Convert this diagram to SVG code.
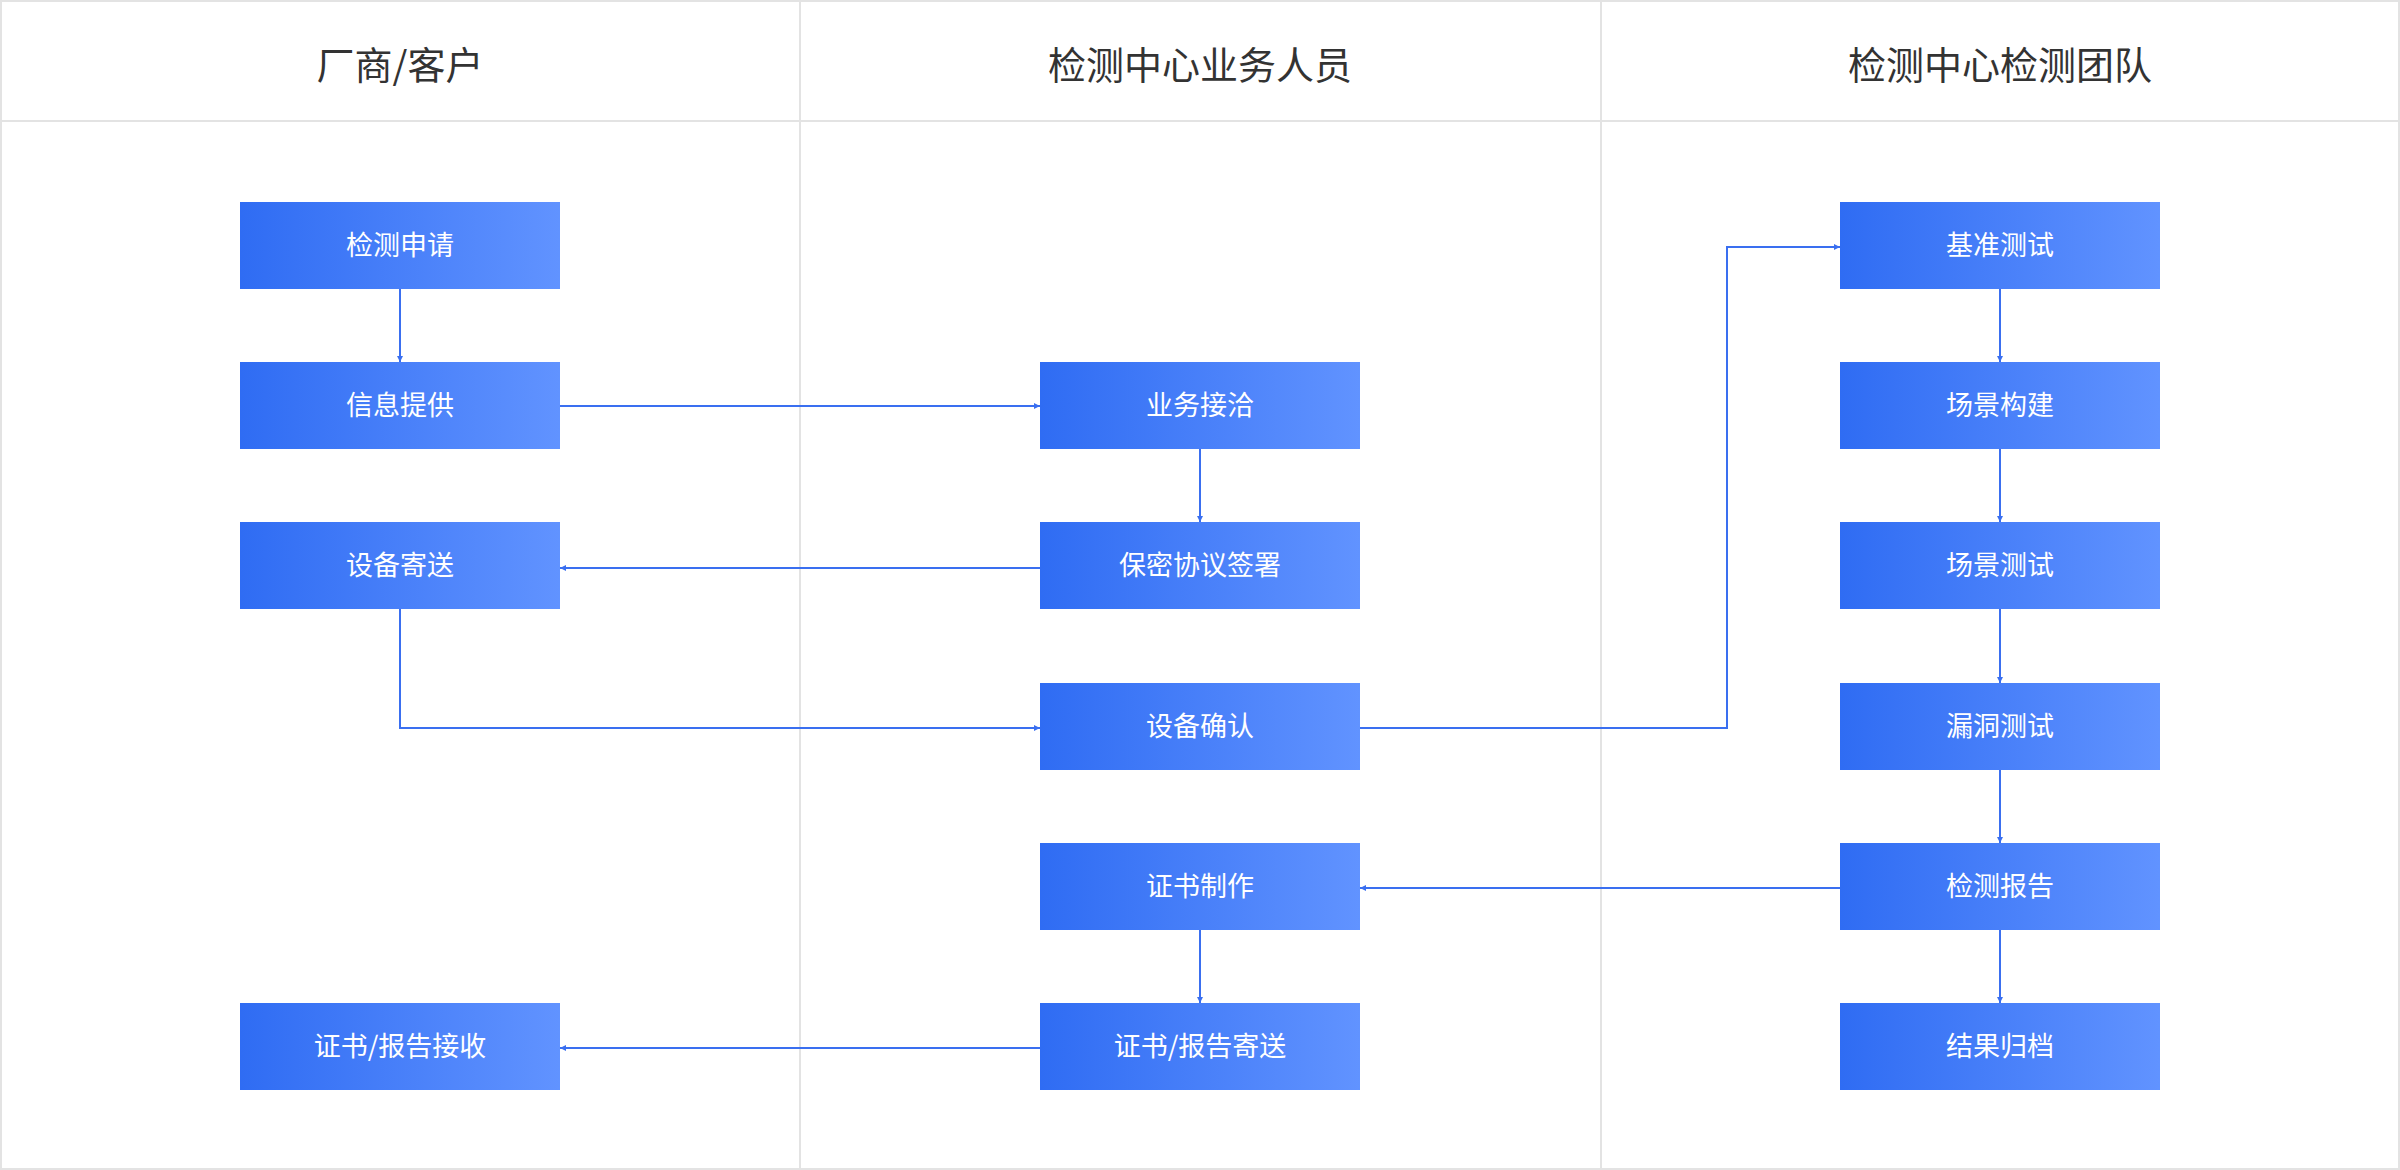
<svg xmlns="http://www.w3.org/2000/svg" width="2400" height="1170" viewBox="0 0 2400 1170">
<style>
.h{font-family:"Noto Sans CJK SC","Noto Sans",sans-serif;font-size:38px;fill:#333;text-anchor:middle}
.t{font-family:"Noto Sans CJK SC","Noto Sans",sans-serif;font-size:27px;fill:#fff;text-anchor:middle}
.c{fill:none;stroke:#3a6ff0;stroke-width:2;marker-end:url(#a)}
.ln{stroke:#e3e3e3;stroke-width:2}
</style>
<defs>
<linearGradient id="g" x1="0" x2="1" y1="0" y2="0"><stop offset="0" stop-color="#2f6cf3"/><stop offset="1" stop-color="#6193ff"/></linearGradient>
<marker id="a" viewBox="0 0 10 10" refX="10" refY="5" markerWidth="6" markerHeight="6" markerUnits="userSpaceOnUse" orient="auto"><path d="M0,0L10,5L0,10z" fill="#3a6ff0"/></marker>
<symbol id="b"><rect width="320" height="87" fill="url(#g)"/></symbol>
</defs>
<rect x="0" y="0" width="2400" height="1170" fill="#fff"/>
<g id="frame">
<rect x="1" y="1" width="2398" height="1168" fill="none" class="ln"/>
<line x1="0" y1="121" x2="2400" y2="121" class="ln"/>
<line x1="800" y1="0" x2="800" y2="1170" class="ln"/>
<line x1="1601" y1="0" x2="1601" y2="1170" class="ln"/>
<text x="400" y="79" class="h">厂商/客户</text>
<text x="1200" y="79" class="h">检测中心业务人员</text>
<text x="2000" y="79" class="h">检测中心检测团队</text>
</g>
<g id="connectors">
<path class="c" d="M400,289V362"/>
<path class="c" d="M560,406H1040"/>
<path class="c" d="M1200,449V522"/>
<path class="c" d="M1040,568H560"/>
<path class="c" d="M400,609V728H1040"/>
<path class="c" d="M1360,728H1727V247H1840"/>
<path class="c" d="M2000,289V362"/>
<path class="c" d="M2000,449V522"/>
<path class="c" d="M2000,609V683"/>
<path class="c" d="M2000,770V843"/>
<path class="c" d="M1840,888H1360"/>
<path class="c" d="M2000,930V1003"/>
<path class="c" d="M1200,930V1003"/>
<path class="c" d="M1040,1048H560"/>
</g>
<g id="n1"><use href="#b" x="240" y="202"/><text x="400" y="255" class="t">检测申请</text></g>
<g id="n2"><use href="#b" x="240" y="362"/><text x="400" y="415" class="t">信息提供</text></g>
<g id="n3"><use href="#b" x="240" y="522"/><text x="400" y="575" class="t">设备寄送</text></g>
<g id="n4"><use href="#b" x="240" y="1003"/><text x="400" y="1056" class="t">证书/报告接收</text></g>
<g id="m1"><use href="#b" x="1040" y="362"/><text x="1200" y="415" class="t">业务接洽</text></g>
<g id="m2"><use href="#b" x="1040" y="522"/><text x="1200" y="575" class="t">保密协议签署</text></g>
<g id="m3"><use href="#b" x="1040" y="683"/><text x="1200" y="736" class="t">设备确认</text></g>
<g id="m4"><use href="#b" x="1040" y="843"/><text x="1200" y="896" class="t">证书制作</text></g>
<g id="m5"><use href="#b" x="1040" y="1003"/><text x="1200" y="1056" class="t">证书/报告寄送</text></g>
<g id="r1"><use href="#b" x="1840" y="202"/><text x="2000" y="255" class="t">基准测试</text></g>
<g id="r2"><use href="#b" x="1840" y="362"/><text x="2000" y="415" class="t">场景构建</text></g>
<g id="r3"><use href="#b" x="1840" y="522"/><text x="2000" y="575" class="t">场景测试</text></g>
<g id="r4"><use href="#b" x="1840" y="683"/><text x="2000" y="736" class="t">漏洞测试</text></g>
<g id="r5"><use href="#b" x="1840" y="843"/><text x="2000" y="896" class="t">检测报告</text></g>
<g id="r6"><use href="#b" x="1840" y="1003"/><text x="2000" y="1056" class="t">结果归档</text></g>
</svg>
